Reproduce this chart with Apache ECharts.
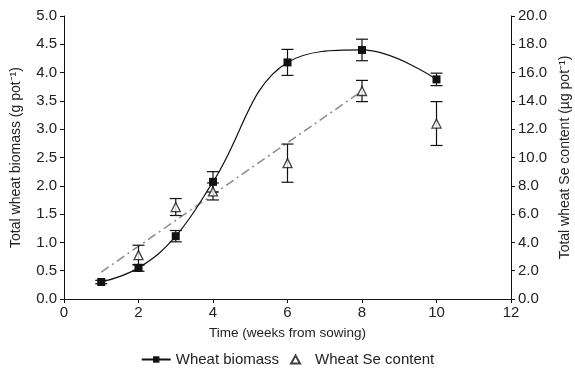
<!DOCTYPE html>
<html>
<head>
<meta charset="UTF-8">
<title>Wheat biomass and Se content</title>
<script src="https://cdn.jsdelivr.net/npm/echarts@6/dist/echarts.min.js"></script>
<style>
  body { margin: 0; background: #fff; }
  #chart { width: 575px; height: 372px; }
</style>
</head>
<body>
<div id="chart"></div>
<script>
// weeks from sowing
var weeks = [1, 2, 3, 4, 6, 8, 10];
// biomass (g pot-1) and its error
var biomass = [0.30, 0.55, 1.11, 2.07, 4.18, 4.40, 3.88];
var biomassErr = [0.03, 0.06, 0.10, 0.18, 0.23, 0.19, 0.11];
// Se content (ug pot-1) and its error, week 1 hidden under the square
var seWeeks = [2, 3, 4, 6, 8, 10];
var seContent = [3.1, 6.5, 7.6, 9.6, 14.7, 12.4];
var seErr = [0.7, 0.6, 0.6, 1.35, 0.75, 1.55];
// linear trend of Se content, week 1 to week 8
var trendWeeks = [1, 8];
var trendSe = [1.9, 14.7];

var font = "'Liberation Sans', Arial, sans-serif";
var chart = echarts.init(document.getElementById('chart'));

function errData(xs, ys, es) {
    var out = [];
    for (var i = 0; i < xs.length; i++) {
        out.push([xs[i], ys[i] - es[i], ys[i] + es[i]]);
    }
    return out;
}

function renderErr(params, api) {
    var x = api.value(0);
    var lo = api.coord([x, api.value(1)]);
    var hi = api.coord([x, api.value(2)]);
    var w = 6;
    var st = { stroke: '#111', lineWidth: 1.2 };
    return {
        type: 'group',
        children: [
            { type: 'line', shape: { x1: hi[0], y1: hi[1], x2: lo[0], y2: lo[1] }, style: st },
            { type: 'line', shape: { x1: hi[0] - w, y1: hi[1], x2: hi[0] + w, y2: hi[1] }, style: st },
            { type: 'line', shape: { x1: lo[0] - w, y1: lo[1], x2: lo[0] + w, y2: lo[1] }, style: st }
        ]
    };
}

var tickText = { color: '#222', fontSize: 15, fontFamily: font, margin: 7 };
var nameText = { color: '#222', fontSize: 14, fontFamily: font };
function oneDec(v) { return v.toFixed(1); }

var option = {
    animation: false,
    textStyle: { fontFamily: font },
    grid: { left: 64, right: 64, top: 16, bottom: 73, outerBoundsMode: 'none', containLabel: false },
    legend: {
        top: 347,
        left: 'center',
        itemGap: 11,
        itemWidth: 29,
        itemHeight: 8,
        textStyle: { color: '#222', fontSize: 15, fontFamily: font },
        data: [
            { name: 'Wheat biomass' },
            { name: 'Wheat Se content', icon: 'path://M5,0L10,9L0,9Z' }
        ]
    },
    xAxis: {
        type: 'value',
        min: 0, max: 12, interval: 2,
        name: 'Time (weeks from sowing)',
        nameLocation: 'middle',
        nameGap: 27,
        nameTextStyle: { color: '#222', fontSize: 13.5, fontFamily: font },
        axisLine: { lineStyle: { color: '#111' } },
        axisTick: { length: 4, lineStyle: { color: '#111' } },
        axisLabel: { color: '#222', fontSize: 15, fontFamily: font, margin: 6 },
        splitLine: { show: false }
    },
    yAxis: [{
        type: 'value',
        min: 0, max: 5, interval: 0.5,
        name: 'Total wheat biomass (g pot\u207B\u00B9)',
        nameLocation: 'middle',
        nameGap: 41,
        nameTextStyle: nameText,
        axisLine: { show: true, lineStyle: { color: '#111' } },
        axisTick: { show: true, length: 4, lineStyle: { color: '#111' } },
        axisLabel: Object.assign({ formatter: oneDec }, tickText),
        splitLine: { show: false }
    }, {
        type: 'value',
        min: 0, max: 20, interval: 2,
        position: 'right',
        name: 'Total wheat Se content (\u00B5g pot\u207B\u00B9)',
        nameLocation: 'middle',
        nameGap: 45,
        nameRotate: 90,
        nameTextStyle: nameText,
        axisLine: { show: true, lineStyle: { color: '#111' } },
        axisTick: { show: true, length: 4, lineStyle: { color: '#111' } },
        axisLabel: Object.assign({ formatter: oneDec }, tickText),
        splitLine: { show: false }
    }],
    series: [{
        name: 'Se trend',
        type: 'line',
        yAxisIndex: 1,
        data: trendWeeks.map(function (w, i) { return [w, trendSe[i]]; }),
        showSymbol: false,
        lineStyle: { color: '#8a8a8a', width: 1.5, type: [9, 4, 2, 4] },
        z: 1
    }, {
        name: 'biomass err',
        type: 'custom',
        renderItem: renderErr,
        data: errData(weeks, biomass, biomassErr),
        z: 3
    }, {
        name: 'se err',
        type: 'custom',
        yAxisIndex: 1,
        renderItem: renderErr,
        data: errData(seWeeks, seContent, seErr),
        z: 3
    }, {
        name: 'Wheat Se content',
        type: 'scatter',
        yAxisIndex: 1,
        data: seWeeks.map(function (w, i) { return [w, seContent[i]]; }),
        symbol: 'triangle',
        symbolSize: 9,
        itemStyle: { color: '#fff', borderColor: '#111', borderWidth: 1.3 },
        z: 4
    }, {
        name: 'Wheat biomass',
        type: 'line',
        data: weeks.map(function (w, i) { return [w, biomass[i]]; }),
        smooth: 0.4,
        symbol: 'rect',
        symbolSize: 8,
        itemStyle: { color: '#111' },
        lineStyle: { color: '#111', width: 1.2 },
        z: 5
    }]
};

chart.setOption(option);
</script>
</body>
</html>
